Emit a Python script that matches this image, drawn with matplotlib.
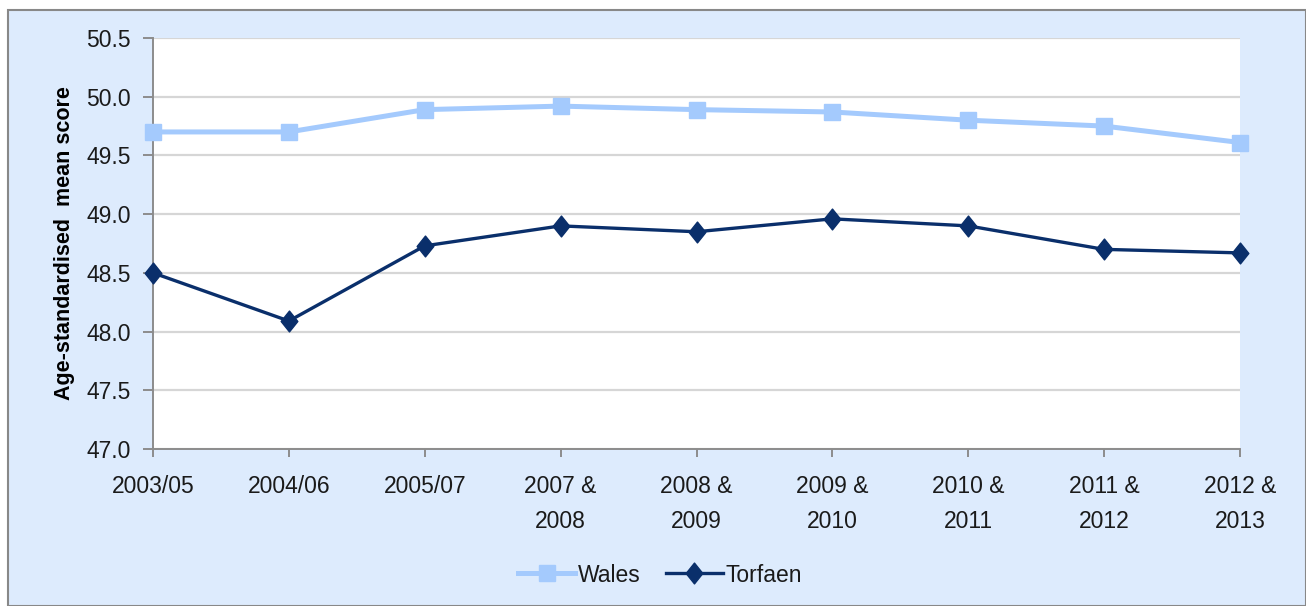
import matplotlib.pyplot as plt
from matplotlib.patches import Rectangle
from matplotlib.path import Path

# data
periods = ['2003/05', '2004/06', '2005/07', '2007 &\n2008', '2008 &\n2009',
           '2009 &\n2010', '2010 &\n2011', '2011 &\n2012', '2012 &\n2013']
wales = [49.70, 49.70, 49.89, 49.92, 49.89, 49.87, 49.80, 49.75, 49.61]
torfaen = [48.50, 48.09, 48.73, 48.90, 48.85, 48.96, 48.90, 48.70, 48.67]

bg = '#DDEBFD'
plt.rcParams['font.family'] = ['Liberation Sans', 'DejaVu Sans']

fig = plt.figure(figsize=(13.06, 6.06), dpi=100, facecolor='white')
# outer chart frame
fig.patches.append(Rectangle((8 / 1306, 0), 1 - 8 / 1306, 1 - 10 / 606,
                             transform=fig.transFigure, facecolor=bg,
                             edgecolor='#888888', linewidth=1.5, zorder=-1))

ax = fig.add_axes([153 / 1306, 1 - 449 / 606, (1240 - 153) / 1306, (449 - 38) / 606])
ax.set_facecolor('white')

# slightly narrow diamond like the original
diamond = Path([(0, 1), (0.8, 0), (0, -1), (-0.8, 0), (0, 1)],
               [Path.MOVETO, Path.LINETO, Path.LINETO, Path.LINETO, Path.CLOSEPOLY])

x = range(len(periods))
ax.plot(x, wales, color='#A4CAFD', linewidth=3.6, marker='s', markersize=12,
        label='Wales', clip_on=False, zorder=3)
ax.plot(x, torfaen, color='#0A2F6B', linewidth=2.4, marker=diamond, markersize=15,
        label='Torfaen', clip_on=False, zorder=4)

ax.set_xlim(0, len(periods) - 1)
ax.set_ylim(47.0, 50.5)
ax.set_yticks([47.0 + 0.5 * i for i in range(8)])
ax.set_yticklabels(['%.1f' % (47.0 + 0.5 * i) for i in range(8)])
ax.set_xticks(list(x))
ax.set_xticklabels(periods, linespacing=1.65)

ax.grid(axis='y', color='#D6D6D6', linewidth=1.6)
ax.set_axisbelow(True)
for s in ['top', 'right']:
    ax.spines[s].set_visible(False)
for s in ['left', 'bottom']:
    ax.spines[s].set_color('#8C8C8C')
    ax.spines[s].set_linewidth(1.4)
ax.tick_params(axis='both', colors='#8C8C8C', width=1.4,
               labelcolor='#1A1A1A', labelsize=16.5)
ax.tick_params(axis='y', length=7, pad=9)
ax.tick_params(axis='x', length=6, pad=13)

ax.set_ylabel('Age-standardised  mean score', fontsize=15.5, fontweight='bold', labelpad=8)

fig.legend(loc='center', bbox_to_anchor=(660 / 1306, 1 - 575 / 606), ncol=2,
           frameon=False, fontsize=16.5, handlelength=2.5, columnspacing=1.1,
           handletextpad=0.1, labelcolor='#1A1A1A')

plt.savefig('out.png', dpi=100, facecolor=fig.get_facecolor())
